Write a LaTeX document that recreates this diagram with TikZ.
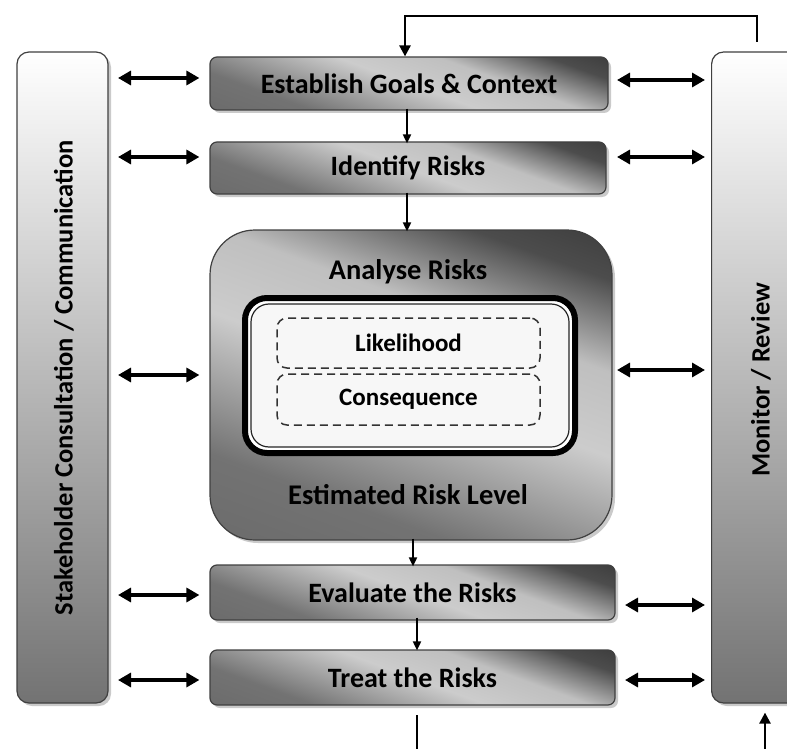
\documentclass[tikz,border=0pt]{standalone}
\usepackage{fontspec}
\setmainfont{Carlito}
\usetikzlibrary{arrows.meta,shadows,calc}
\pgfdeclarehorizontalshading{boxshade}{100bp}{color(0bp)=(black!62); color(30bp)=(black!55); color(50bp)=(black!20); color(62bp)=(black!25); color(75bp)=(black!70); color(100bp)=(black!90)}
\begin{document}
\begin{tikzpicture}[x=1pt,y=-1pt,
  stepbox/.style={draw=black!75, line width=1.2pt, rounded corners=7pt, shading=boxshade, shading angle=70,
     drop shadow={shadow xshift=3pt, shadow yshift=-3pt, fill=black!35, opacity=0.6},
     font=\bfseries\fontsize{28}{32}\selectfont, inner sep=0pt},
  panel/.style={draw=black!75, line width=1.2pt, rounded corners=12pt, top color=white, bottom color=black!55,
     drop shadow={shadow xshift=3pt, shadow yshift=-3pt, fill=black!35, opacity=0.6}, inner sep=0pt},
  flow/.style={line width=1.8pt, -{Triangle[length=9pt,width=8pt]}},
  dbl/.style={line width=3.2pt, {Triangle[length=13pt,width=14pt]}-{Triangle[length=13pt,width=14pt]}},
  dashbox/.style={draw=black!80, line width=1.5pt, dash pattern=on 8pt off 5pt, rounded corners=10pt, inner sep=0pt,
     font=\bfseries\fontsize{25}{28}\selectfont},
  lbl/.style={font=\bfseries\fontsize{28.5}{32}\selectfont},
  ptxt/.style={rotate=90, font=\bfseries\fontsize{26.5}{30}\selectfont}
]
\useasboundingbox (0,0) rectangle (787,749);
% panels
\node[panel, minimum width=91pt, minimum height=651pt] (stake) at (62.5,377.5) {};
\node[ptxt] (staketxt) at (64,378) {Stakeholder Consultation / Communication};
\node[panel, minimum width=130pt, minimum height=651pt, anchor=west] (mon) at (711,377.5) {};
\node[ptxt] (montxt) at (761,380) {Monitor / Review};
% steps
\node[stepbox, minimum width=398pt, minimum height=53pt] (est) at (409,83.5) {Establish Goals \& Context};
\node[stepbox, minimum width=396pt, minimum height=52pt] (idf) at (408,168) {Identify Risks};
\node[stepbox, rounded corners=45pt, minimum width=402pt, minimum height=310pt] (ana) at (411,385) {};
\node[stepbox, minimum width=405pt, minimum height=55pt] (eva) at (412.5,592.5) {Evaluate the Risks};
\node[stepbox, minimum width=405pt, minimum height=55pt] (trt) at (412.5,677.5) {Treat the Risks};
% analyse contents
\node[lbl] (anat) at (408,272) {Analyse Risks};
\node[lbl] (erl) at (408,495) {Estimated Risk Level};
\node[draw=black, line width=6pt, fill=white, rounded corners=22pt, minimum width=330pt, minimum height=155pt] (inner) at (410,375.5) {};
\node[draw=black!85, line width=1.2pt, fill=black!3, rounded corners=18pt, minimum width=318pt, minimum height=143pt] (inner2) at (410,375.5) {};
\node[dashbox, minimum width=263pt, minimum height=50pt] (lik) at (408.5,343) {Likelihood};
\node[dashbox, minimum width=263pt, minimum height=51pt] (con) at (408.5,399.5) {Consequence};
% flow arrows
\coordinate (topL) at (405,16);
\coordinate (topR) at (757,16);
\coordinate (monTop) at (757,42);
\draw[line width=2.6pt, -{Triangle[length=11pt,width=11pt]}] (monTop) -- (topR) -- (topL) -- (topL |- est.north);
\draw[flow] ([yshift=2pt]est.south -| 407,0) -- ([yshift=-2pt]idf.north -| 407,0);
\draw[flow] ([yshift=2pt]idf.south -| 407,0) -- ([yshift=-2pt]ana.north -| 407,0);
\draw[flow] ([yshift=2pt]ana.south -| 413,0) -- ([yshift=-2pt]eva.north -| 413,0);
\draw[flow] ([yshift=3pt]eva.south -| 417,0) -- ([yshift=-1pt]trt.north -| 417,0);
\coordinate (botA) at (417,715);
\coordinate (botB) at (417,749);
\draw[line width=2.4pt] (botA) -- (botB);
\coordinate (botC) at (765,749);
\draw[line width=2.4pt, -{Triangle[length=11pt,width=11pt]}] (botC) -- ([yshift=-9pt]mon.south -| botC);
% left double arrows
\foreach \n/\yy in {est/78, idf/157, ana/375, eva/595, trt/680}{
  \draw[dbl] (118,\yy) -- ($(\n.west |- 0,\yy)+(-10,0)$);
}
% right double arrows
\foreach \n/\yy/\xa in {est/80/617, idf/157/617, ana/370/617, eva/605/625, trt/680/625}{
  \draw[dbl] (\xa,\yy) -- ($(mon.west |- 0,\yy)+(-6,0)$);
}
\end{tikzpicture}
\end{document}
